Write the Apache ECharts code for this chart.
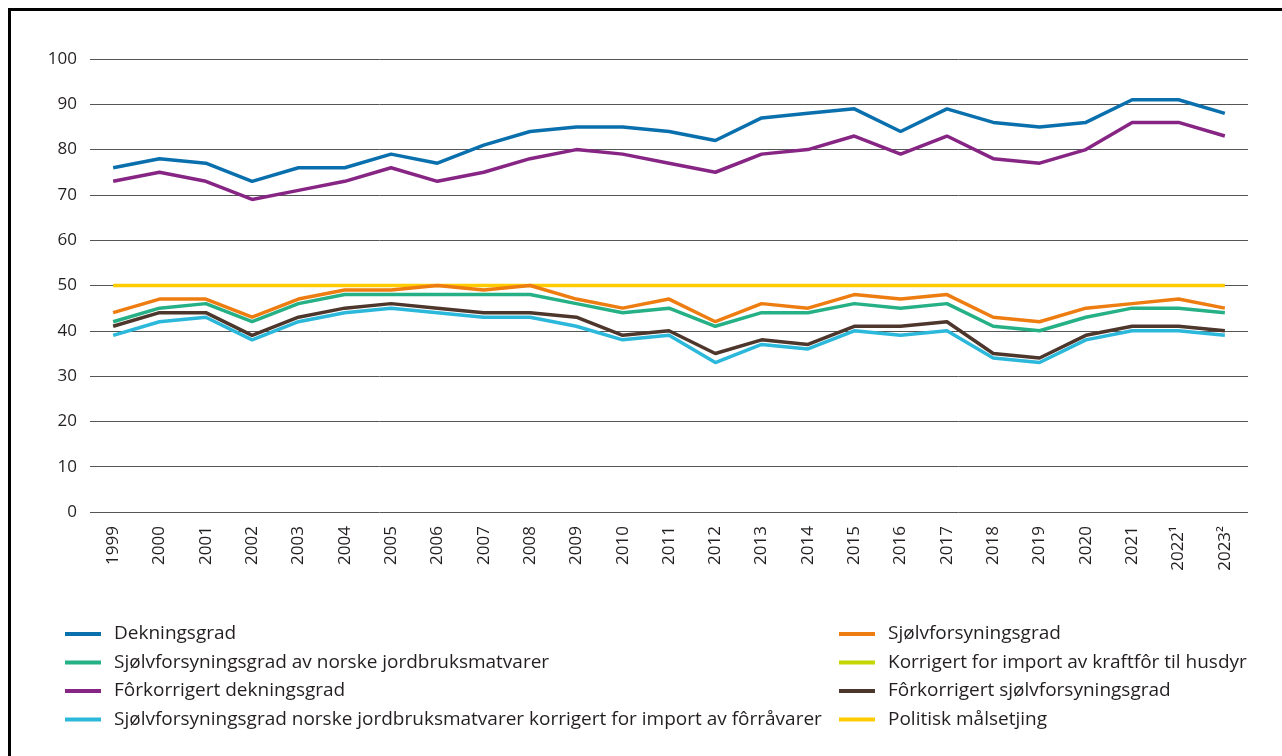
<!DOCTYPE html>
<html>
<head>
<meta charset="utf-8">
<script src="https://cdn.jsdelivr.net/npm/echarts@6/dist/echarts.min.js"></script>
<style>
  html, body { margin: 0; padding: 0; background: #fff; overflow: hidden; }
  #frame {
    position: absolute; left: 8px; top: 8px;
    width: 1290px; height: 760px;
    border: 3px solid #000; box-sizing: border-box;
  }
  #chart { position: absolute; left: 0; top: 0; width: 1282px; height: 756px; }
</style>
</head>
<body>
<div id="frame"></div>
<div id="chart"></div>
<script>
// år (2022 og 2023 med fotnote)
var years = ['1999', '2000', '2001', '2002', '2003', '2004', '2005', '2006', '2007', '2008',
  '2009', '2010', '2011', '2012', '2013', '2014', '2015', '2016', '2017', '2018',
  '2019', '2020', '2021', '2022¹', '2023²']

var dekningsgrad = [76, 78, 77, 73, 76, 76, 79, 77, 81, 84, 85, 85, 84, 82, 87, 88, 89, 84, 89, 86, 85, 86, 91, 91, 88]
var forkorrDekningsgrad = [73, 75, 73, 69, 71, 73, 76, 73, 75, 78, 80, 79, 77, 75, 79, 80, 83, 79, 83, 78, 77, 80, 86, 86, 83]
var sjolvforsyning = [44, 47, 47, 43, 47, 49, 49, 50, 49, 50, 47, 45, 47, 42, 46, 45, 48, 47, 48, 43, 42, 45, 46, 47, 45]
var sjolvNorske = [42, 45, 46, 42, 46, 48, 48, 48, 48, 48, 46, 44, 45, 41, 44, 44, 46, 45, 46, 41, 40, 43, 45, 45, 44]
var forkorrSjolv = [41, 44, 44, 39, 43, 45, 46, 45, 44, 44, 43, 39, 40, 35, 38, 37, 41, 41, 42, 35, 34, 39, 41, 41, 40]
var sjolvNorskeKorr = [39, 42, 43, 38, 42, 44, 45, 44, 43, 43, 41, 38, 39, 33, 37, 36, 40, 39, 40, 34, 33, 38, 40, 40, 39]
var kraftfor = [] // ingen verdier i figuren
var malsetjing = [50, 50, 50, 50, 50, 50, 50, 50, 50, 50, 50, 50, 50, 50, 50, 50, 50, 50, 50, 50, 50, 50, 50, 50, 50]

var yTicks = [0, 10, 20, 30, 40, 50, 60, 70, 80, 90, 100]

var FONT = 'Open Sans'

function line (name, color, data) {
  return {
    name: name,
    type: 'line',
    data: data,
    symbol: 'none',
    color: color,
    lineStyle: { color: color, width: 3.5 },
    emphasis: { disabled: true }
  }
}

var legendBase = {
  orient: 'vertical',
  icon: 'rect',
  itemWidth: 36,
  itemHeight: 4,
  itemGap: 8.5,
  itemStyle: { borderWidth: 0 },
  textStyle: { fontFamily: FONT, fontSize: 19, lineHeight: 20, color: '#231f20', padding: [0, 0, 0, 8] },
  selectedMode: false,
  top: 619
}

var chart = echarts.init(document.getElementById('chart'))
chart.setOption({
  animation: false,
  grid: { left: 90, right: 34, top: 59, bottom: 244 },
  legend: [
    Object.assign({}, legendBase, {
      left: 60,
      data: ['Dekningsgrad', 'Sjølvforsyningsgrad av norske jordbruksmatvarer',
        'Fôrkorrigert dekningsgrad',
        'Sjølvforsyningsgrad norske jordbruksmatvarer korrigert for import av fôrråvarer']
    }),
    Object.assign({}, legendBase, {
      left: 834,
      data: ['Sjølvforsyningsgrad', 'Korrigert for import av kraftfôr til husdyr',
        'Fôrkorrigert sjølvforsyningsgrad', 'Politisk målsetjing']
    })
  ],
  xAxis: {
    type: 'category',
    data: years,
    boundaryGap: true,
    axisLine: { show: false },
    axisTick: { show: false },
    axisLabel: {
      rotate: 90,
      margin: 14,
      interval: 0,
      fontFamily: FONT,
      fontSize: 17,
      color: '#231f20'
    }
  },
  yAxis: {
    type: 'value',
    min: yTicks[0],
    max: yTicks[yTicks.length - 1],
    interval: 10,
    axisLine: { show: false },
    axisTick: { show: false },
    axisLabel: { margin: 13, fontFamily: FONT, fontSize: 17, color: '#231f20' },
    splitLine: { lineStyle: { color: '#555', width: 1 } }
  },
  series: [
    line('Politisk målsetjing', '#ffcc00', malsetjing),
    line('Korrigert for import av kraftfôr til husdyr', '#c4d600', kraftfor),
    line('Dekningsgrad', '#0a6fad', dekningsgrad),
    line('Fôrkorrigert dekningsgrad', '#872584', forkorrDekningsgrad),
    line('Sjølvforsyningsgrad', '#ee7d11', sjolvforsyning),
    line('Sjølvforsyningsgrad av norske jordbruksmatvarer', '#26b085', sjolvNorske),
    line('Fôrkorrigert sjølvforsyningsgrad', '#4d362b', forkorrSjolv),
    line('Sjølvforsyningsgrad norske jordbruksmatvarer korrigert for import av fôrråvarer', '#2bb8da', sjolvNorskeKorr)
  ]
})
</script>
</body>
</html>
